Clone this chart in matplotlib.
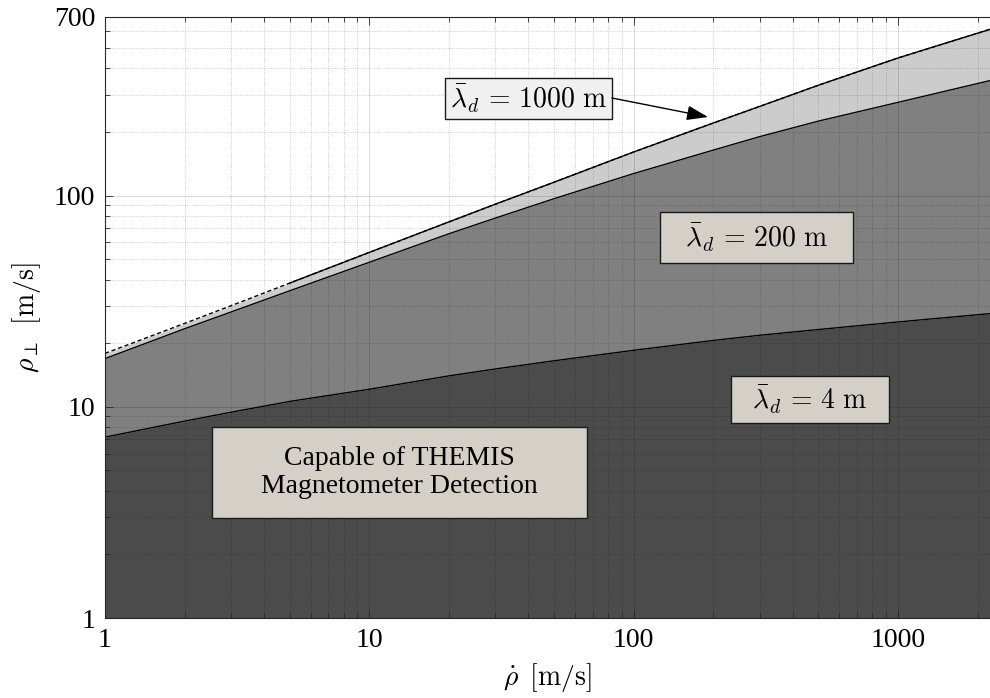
import matplotlib
matplotlib.use("Agg")
import matplotlib.pyplot as plt
from matplotlib.patches import Rectangle
from matplotlib.ticker import LogLocator, FixedLocator, NullFormatter, FixedFormatter
import numpy as np

plt.rcParams['font.family'] = 'serif'
plt.rcParams['font.serif'] = ['Liberation Serif', 'DejaVu Serif']
plt.rcParams['mathtext.fontset'] = 'cm'

# Radial rate (x) and transverse velocity thresholds for three mean wavelengths
rho_dot = [1, 2, 3, 5, 10, 20, 30, 50, 100, 200, 300, 500, 1000, 2230]
rho_perp_4m = [7.18, 8.55, 9.42, 10.6, 12.1, 14.0, 15.1, 16.5, 18.5, 20.6, 21.8, 23.2, 25.2, 27.6]
rho_perp_200m = [16.9, 23.4, 28.1, 35.4, 48.3, 65.9, 78.2, 96.6, 127, 164, 190, 225, 276, 350]
rho_perp_1000m = [17.9, 24.8, 30.1, 38.5, 53.8, 75.0, 91.0, 115.6, 160.7, 220.3, 264.2, 332.7, 447.7, 612]

x_ticks = [1, 10, 100, 1000]
x_tick_labels = ['1', '10', '100', '1000']
y_ticks = [1, 10, 100, 700]
y_tick_labels = ['1', '10', '100', '700']

x_lim = (1, 2230)
y_lim = (1, 700)

fig = plt.figure(figsize=(9.9, 6.98), dpi=100)
ax = fig.add_axes([105 / 990, 1 - 618 / 698, (990 - 105) / 990, (618 - 17) / 698])

x = np.array(rho_dot)
y4 = np.array(rho_perp_4m)
y200 = np.array(rho_perp_200m)
y1000 = np.array(rho_perp_1000m)

ax.fill_between(x, y_lim[0], y4, color='#4b4b4b', lw=0, zorder=1)
ax.fill_between(x, y4, y200, color='#808080', lw=0, zorder=1)
ax.fill_between(x, y200, y1000, color='#cccccc', lw=0, zorder=1)

ax.plot(x, y4, color='black', lw=1.0, zorder=3)
ax.plot(x, y200, color='black', lw=1.0, zorder=3)
ax.plot(x, y1000, color='black', lw=1.0, ls=(0, (3, 2)), zorder=3)
solid = x >= 5
ax.plot(x[solid], y1000[solid], color='black', lw=1.0, zorder=3)

ax.set_xscale('log')
ax.set_yscale('log')
ax.set_xlim(*x_lim)
ax.set_ylim(*y_lim)

ax.xaxis.set_major_locator(FixedLocator(x_ticks))
ax.xaxis.set_major_formatter(FixedFormatter(x_tick_labels))
ax.xaxis.set_minor_locator(LogLocator(base=10, subs=np.arange(2, 10), numticks=20))
ax.xaxis.set_minor_formatter(NullFormatter())
ax.yaxis.set_major_locator(FixedLocator(y_ticks))
ax.yaxis.set_major_formatter(FixedFormatter(y_tick_labels))
ax.yaxis.set_minor_locator(LogLocator(base=10, subs=np.arange(2, 10), numticks=20))
ax.yaxis.set_minor_formatter(NullFormatter())

ax.tick_params(which='both', direction='in', top=True, right=False,
               color='#262626', width=0.6)
ax.tick_params(which='major', length=6, labelsize=20, pad=7)
ax.tick_params(which='minor', length=3.5)

ax.set_axisbelow(False)
ax.grid(which='major', color='black', alpha=0.15, lw=0.7, ls='-', zorder=2)
ax.grid(which='minor', color='black', alpha=0.25, lw=0.6, ls=':', zorder=2)

for sp in ax.spines.values():
    sp.set_color('#262626')
    sp.set_linewidth(0.8)
    sp.set_zorder(4)
ax.spines['right'].set_visible(False)

ax.set_xlabel(r'$\dot{\rho}\ \,\mathrm{[m/s]}$', fontsize=20, labelpad=6)
ax.set_ylabel(r'$\rho_{\perp}\ \,\mathrm{[m/s]}$', fontsize=20, labelpad=8)


def px_to_ax(px, py):
    return (px - 105) / 885, (618 - py) / 601


def boxed_label(x0, y0, x1, y1, text, face, fs=20):
    ax0, ay1 = px_to_ax(x0, y0)
    ax1, ay0 = px_to_ax(x1, y1)
    ax.add_patch(Rectangle((ax0, ay0), ax1 - ax0, ay1 - ay0, transform=ax.transAxes,
                           facecolor=face, edgecolor='#1a1a1a', lw=1.0, zorder=5))
    ax.text((ax0 + ax1) / 2, (ay0 + ay1) / 2, text, transform=ax.transAxes,
            ha='center', va='center', fontsize=fs, zorder=6, linespacing=1.15)


boxed_label(445, 78, 612, 119, r'$\bar{\lambda}_d\, =\, 1000\ \mathrm{m}$', '#f0f0f0')
boxed_label(660, 212, 853, 263, r'$\bar{\lambda}_d\, =\, 200\ \mathrm{m}$', '#d4d0c8')
boxed_label(731, 376, 889, 423, r'$\bar{\lambda}_d\, =\, 4\ \mathrm{m}$', '#d4d0c8')
boxed_label(212, 427, 587, 518, 'Capable of THEMIS\nMagnetometer Detection', '#d4d0c8')

start = px_to_ax(612, 98)
tip = px_to_ax(708, 117)
ax.annotate('', xy=tip, xycoords='axes fraction', xytext=start, textcoords='axes fraction',
            arrowprops=dict(arrowstyle='-|>,head_length=1.3,head_width=0.45',
                            color='black', lw=1.0, shrinkA=0, shrinkB=0),
            zorder=6)

fig.savefig('out.png', dpi=100)
